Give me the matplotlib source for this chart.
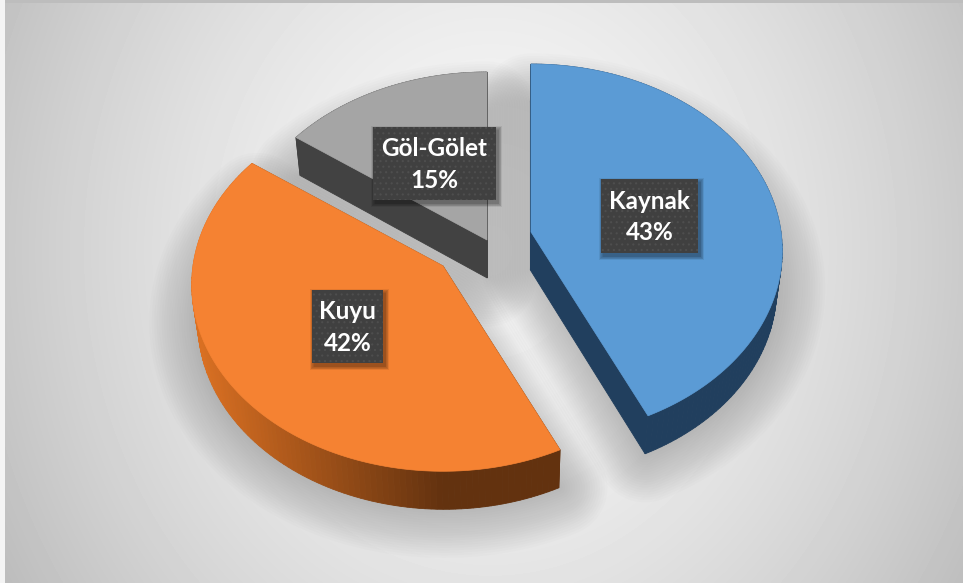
import numpy as np
import matplotlib
matplotlib.use('Agg')
import matplotlib.pyplot as plt
from matplotlib.patches import Polygon, Rectangle

plt.rcParams['font.family'] = ['Lato', 'DejaVu Sans']
plt.rcParams['hatch.linewidth'] = 0.8

# Dane
names = ['Kaynak', 'Kuyu', 'Göl-Gölet']
values = [43, 42, 15]

# Wyglad
top_colors = ['#5B9BD5', '#F58232', '#A5A5A5']
side_dark = ['#213F5E', '#63320F', '#424242']
side_light = ['#264A6E', '#D96F22', '#424242']
apex_xy = [(531, 232), (443, 266), (487, 240)]
label_boxes = [(601, 179, 97, 74), (312, 290, 71, 73), (373, 127, 123, 73)]

radius = 250
tilt = 0.739
persp = 0.10
depth = 38
bottom_scale = 0.98
mid_x = 500


def project(theta, r, apex):
    x = r * np.sin(theta)
    y = r * np.cos(theta)
    s = 1 / (1 + persp * y)
    return apex[0] + radius * x * s, apex[1] - radius * tilt * y * s


def to_bottom(px, py):
    return mid_x + (px - mid_x) * bottom_scale, py + depth


fig = plt.figure(figsize=(9.63, 5.83), dpi=100)
ax = fig.add_axes([0, 0, 1, 1])
ax.set_xlim(0, 963)
ax.set_ylim(583, 0)
ax.axis('off')

# Tlo z gradientem
yy, xx = np.mgrid[0:583, 0:963]
d = np.sqrt(((xx - 490) / 480.0) ** 2 + ((yy - 250) / 560.0) ** 2)
bg = 0.97 - 0.18 * np.clip(d, 0, 1.3) ** 1.6
ax.imshow(bg, cmap='gray', vmin=0, vmax=1, extent=(0, 963, 583, 0), aspect='auto', zorder=0)
ax.add_patch(Rectangle((0, 0), 963, 3, color='#BDBDBD', lw=0, zorder=1))
ax.add_patch(Rectangle((0, 0), 5, 583, color='#F4F4F4', lw=0, zorder=1))

# Katy wycinkow z wartosci
edges = np.concatenate([[0], np.cumsum(values)]) / np.sum(values) * 2 * np.pi

outlines = []
for i in range(len(values)):
    th = np.linspace(edges[i], edges[i + 1], 120)
    px, py = project(th, 1.0, apex_xy[i])
    px = np.concatenate([[apex_xy[i][0]], px])
    py = np.concatenate([[apex_xy[i][1]], py])
    outlines.append((px, py))

# Cienie
for px, py in outlines:
    bx, by = to_bottom(px, py)
    pts = np.column_stack([bx, by])
    for lw in np.linspace(70, 2, 20):
        ax.add_patch(Polygon(pts, closed=True, fc=(0.3, 0.3, 0.3, 0.016),
                             ec=(0.3, 0.3, 0.3, 0.016), lw=lw, joinstyle='round', zorder=2))

# Boki i gorne sciany
for i, (px, py) in enumerate(outlines):
    bx, by = to_bottom(px, py)
    dark = np.array(matplotlib.colors.to_rgb(side_dark[i]))
    light = np.array(matplotlib.colors.to_rgb(side_light[i]))
    n = len(px)
    for j in range(n):
        k = (j + 1) % n
        f = np.clip((0.5 * (px[j] + px[k]) - 200) / 240.0, 0, 1)
        col = light + (dark - light) * f
        ax.add_patch(Polygon([(px[j], py[j]), (px[k], py[k]), (bx[k], by[k]), (bx[j], by[j])],
                             closed=True, fc=col, ec=col, lw=0.6, zorder=3 + i * 0.1))
    ax.add_patch(Polygon(np.column_stack([px, py]), closed=True, fc=top_colors[i],
                         ec=top_colors[i], lw=0.5, zorder=4 + i * 0.1))

# Etykiety
for name, val, (x0, y0, w, h) in zip(names, values, label_boxes):
    for grow in np.linspace(8, 1, 6):
        ax.add_patch(Rectangle((x0 - grow / 2 + 2, y0 - grow / 2 + 3), w + grow, h + grow,
                               fc=(0, 0, 0, 0.07), lw=0, zorder=6))
    ax.add_patch(Rectangle((x0, y0), w, h, fc='#404040', ec='#4E4E4E', hatch='...', lw=0, zorder=7))
    ax.text(x0 + w / 2, y0 + h / 2 + 1, f"{name}\n{val}%", color='white', fontsize=17.5,
            fontweight='bold', ha='center', va='center', linespacing=1.45, zorder=8)

fig.savefig('out.png', dpi=100)
plt.close(fig)
